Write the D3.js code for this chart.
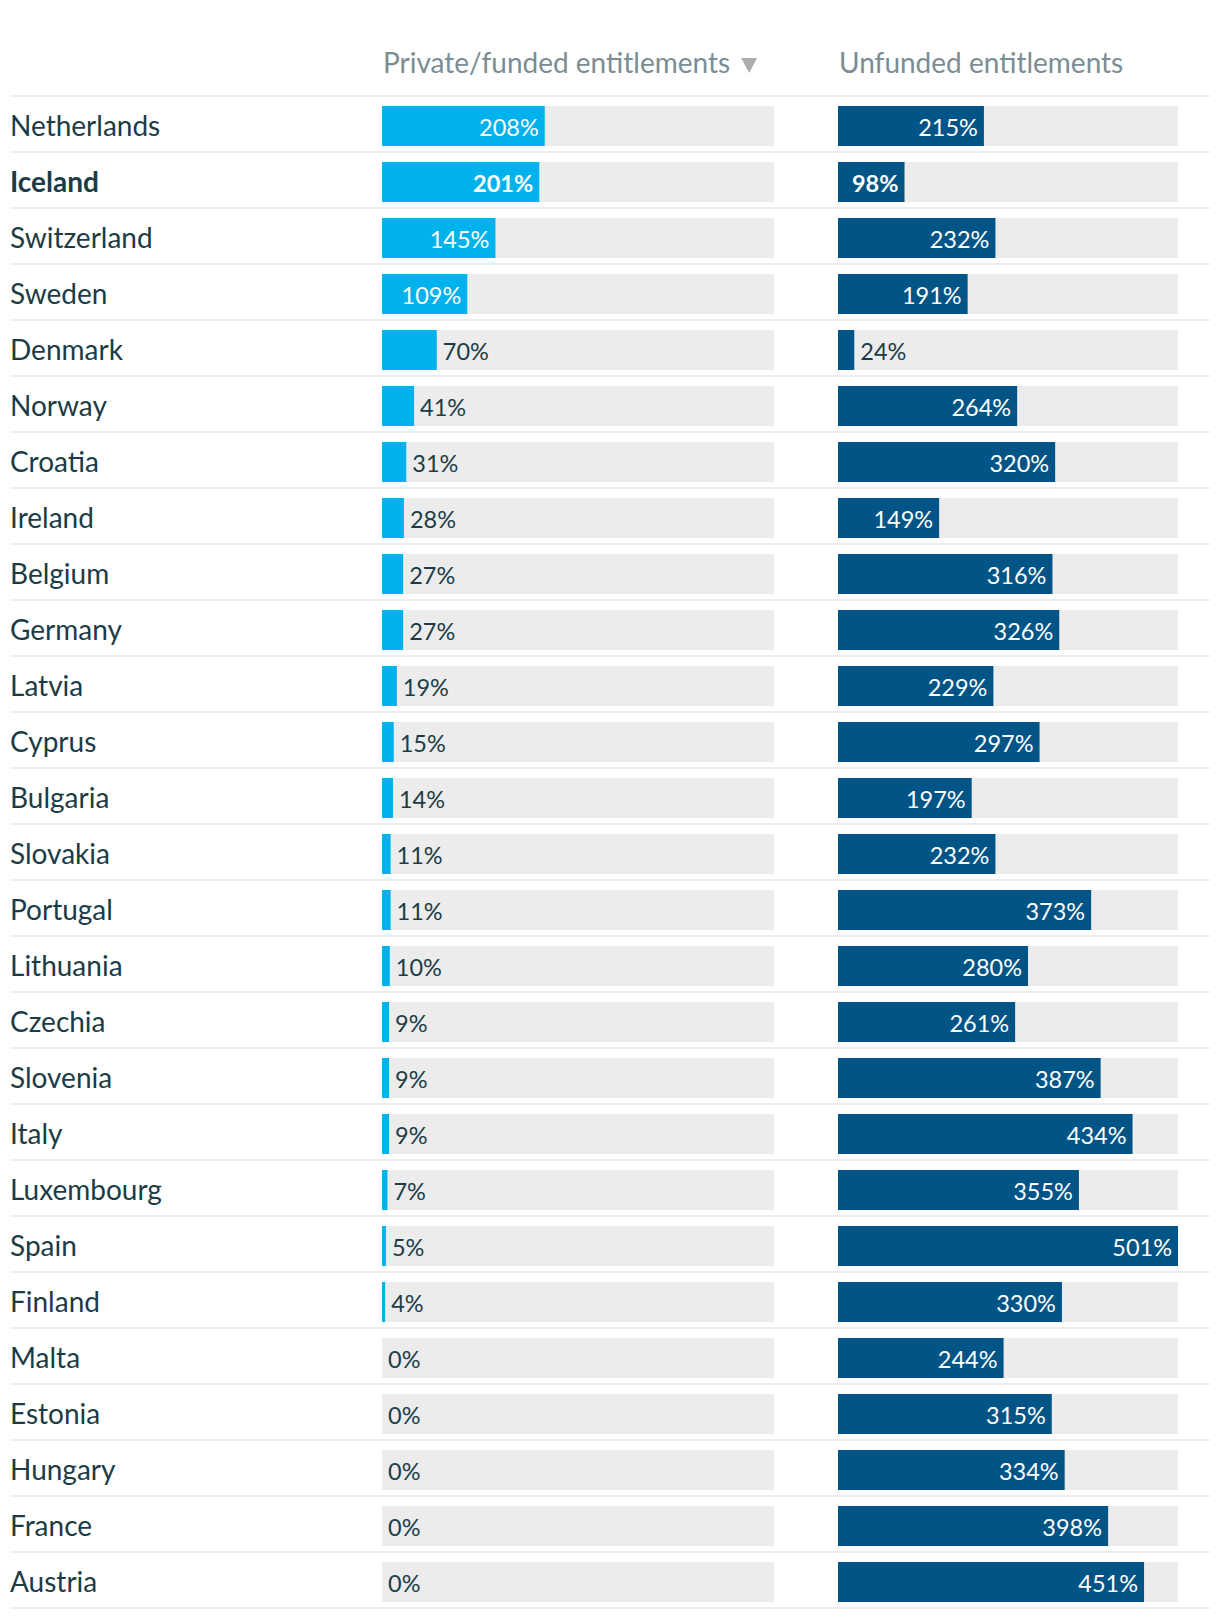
<!DOCTYPE html>
<html>
<head>
<meta charset="utf-8">
<script src="https://cdn.jsdelivr.net/npm/d3@7"></script>
<style>
  html, body { margin: 0; padding: 0; background: #ffffff; }
  svg { display: block; font-family: Lato, "Open Sans", sans-serif; }
</style>
</head>
<body>
<svg id="chart" width="1220" height="1620"></svg>
<script>
const countries = ["Netherlands","Iceland","Switzerland","Sweden","Denmark","Norway","Croatia","Ireland","Belgium","Germany","Latvia","Cyprus","Bulgaria","Slovakia","Portugal","Lithuania","Czechia","Slovenia","Italy","Luxembourg","Spain","Finland","Malta","Estonia","Hungary","France","Austria"];
const privateFunded = [208,201,145,109,70,41,31,28,27,27,19,15,14,11,11,10,9,9,9,7,5,4,0,0,0,0,0];
const unfunded = [215,98,232,191,24,264,320,149,316,326,229,297,197,232,373,280,261,387,434,355,501,330,244,315,334,398,451];
const columnTitles = ["Private/funded entitlements", "Unfunded entitlements"];
const highlighted = ["Iceland"];

(function () {
const svg = d3.select("#chart");
const tableTop = 96, rowH = 56;
const y = d3.scaleBand().domain(countries).range([tableTop, tableTop + rowH * countries.length]).padding(0);
const maxV = d3.max(privateFunded.concat(unfunded));

const columns = [
  {title: columnTitles[0], values: privateFunded, x0: 382, w: 392, color: "#00b2eb", sorted: true},
  {title: columnTitles[1], values: unfunded, x0: 838, w: 340, color: "#005486", sorted: false}
];
columns.forEach(c => { c.scale = d3.scaleLinear().domain([0, maxV]).range([c.x0, c.x0 + c.w]); });

const textColor = "#1b3c47";

svg.append("line").attr("x1", 10).attr("x2", 1210).attr("y1", tableTop).attr("y2", tableTop)
  .attr("stroke", "#ededed").attr("stroke-width", 2);

columns.forEach(c => {
  const t = svg.append("text").attr("x", c.x0 + 1).attr("y", 73)
    .attr("font-size", 28).attr("fill", "#7a8d94").text(c.title);
  if (c.sorted) {
    const w = t.node().getComputedTextLength();
    const tx = c.x0 + w + 12;
    svg.append("path").attr("d", `M${tx},58 L${tx+16},58 L${tx+8},73 Z`).attr("fill", "#acacac");
  }
});

countries.forEach((name, i) => {
  const by = y(name);
  const bold = highlighted.includes(name);
  svg.append("line").attr("x1", 10).attr("x2", 1210).attr("y1", by + rowH).attr("y2", by + rowH)
    .attr("stroke", "#ededed").attr("stroke-width", 2);
  svg.append("text").attr("x", 10).attr("y", by + 40)
    .attr("font-size", 28).attr("font-weight", bold ? 700 : 400)
    .attr("fill", textColor).text(name);

  columns.forEach(c => {
    const v = c.values[i];
    svg.append("rect").attr("x", c.x0).attr("y", by + 10).attr("width", c.w).attr("height", 40).attr("fill", "#ececec");
    const xe = c.scale(v);
    svg.append("rect").attr("x", c.x0).attr("y", by + 10).attr("width", xe - c.x0).attr("height", 40).attr("fill", c.color);
    const lbl = svg.append("text").attr("y", by + 40).attr("font-size", 23.5)
      .attr("font-weight", bold ? 700 : 400).text(v + "%");
    const tw = lbl.node().getComputedTextLength();
    if (xe - c.x0 >= tw + 14) {
      lbl.attr("x", xe - 6).attr("text-anchor", "end").attr("fill", "#ffffff");
    } else {
      lbl.attr("x", xe + 6).attr("fill", textColor);
    }
  });
});
})();
</script>
</body>
</html>
